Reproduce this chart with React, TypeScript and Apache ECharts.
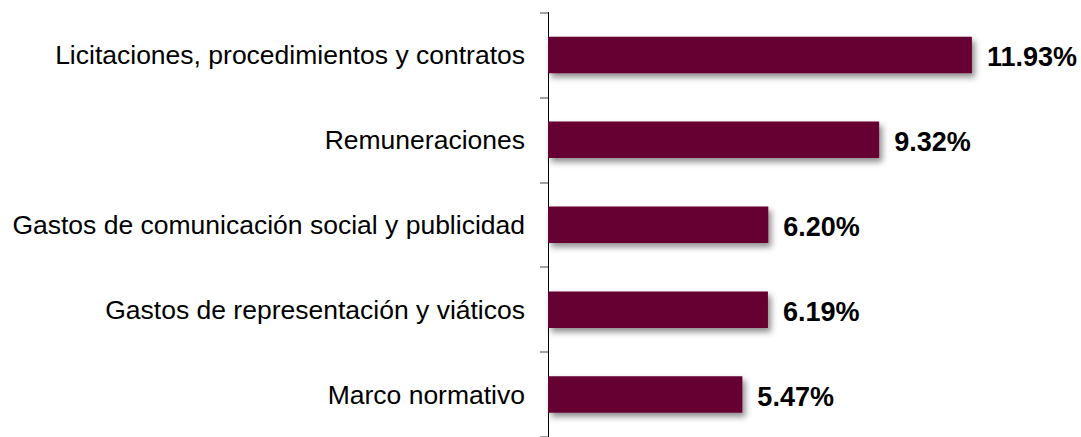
import React, { useEffect, useRef } from "react";
import * as echarts from "echarts";

const categories = [
  "Licitaciones, procedimientos y contratos",
  "Remuneraciones",
  "Gastos de comunicación social y publicidad",
  "Gastos de representación y viáticos",
  "Marco normativo",
];
const values = [11.93, 9.32, 6.2, 6.19, 5.47];

export default function App() {
  const ref = useRef<HTMLDivElement>(null);
  useEffect(() => {
    if (!ref.current) return;
    const chart = echarts.init(ref.current, null, { renderer: "svg" });
    chart.setOption({
      animation: false,
      grid: { left: 548, right: 0, top: 12.5, bottom: -6.5, containLabel: false },
      xAxis: { type: "value", min: 0, max: 15, show: false },
      yAxis: {
        type: "category",
        inverse: true,
        data: categories,
        axisLine: { show: true, lineStyle: { color: "#000", width: 1 } },
        axisTick: { show: true, length: 8, lineStyle: { color: "#808080", width: 1.5 } },
        axisLabel: {
          color: "#000",
          fontFamily: "Liberation Sans",
          fontSize: 26.5,
          margin: 23,
          padding: [4, 0, 0, 0],
        },
        splitLine: { show: false },
      },
      series: [
        {
          type: "bar",
          data: values,
          barWidth: "43%",
          itemStyle: {
            color: "#660033",
            shadowColor: "rgba(0,0,0,0.45)",
            shadowBlur: 6,
            shadowOffsetX: 3,
            shadowOffsetY: 4,
          },
          label: {
            show: true,
            position: "right",
            distance: 15,
            offset: [0, 2],
            formatter: (p: any) => p.value.toFixed(2) + "%",
            color: "#000",
            fontWeight: "bold",
            fontSize: 27,
            fontFamily: "Liberation Sans",
          },
        },
      ],
    });
    return () => chart.dispose();
  }, []);
  return (
    <div
      ref={ref}
      style={{ position: "fixed", left: 0, top: 0, width: 1081, height: 437, background: "#fff" }}
    />
  );
}
